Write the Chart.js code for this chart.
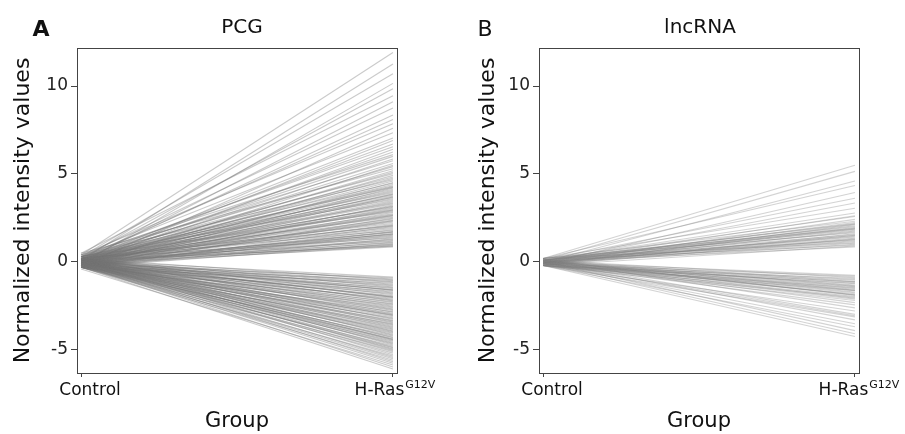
<!DOCTYPE html>
<html><head><meta charset="utf-8">
<script src="https://cdn.jsdelivr.net/npm/chart.js@4/dist/chart.umd.min.js"></script>
<style>
html,body{margin:0;padding:0;background:#fff;}
#wrap{position:relative;width:905px;height:434px;}
.p{position:absolute;top:0;height:434px;}
</style>
</head><body>
<div id="wrap">
<div class="p" style="left:0;width:452px"><canvas id="cA"></canvas></div>
<div class="p" style="left:452px;width:453px"><canvas id="cB"></canvas></div>
</div>
<script>
// ---------- data ----------
const groups = ['Control', 'H-Ras'];
const groupSup = ['', 'G12V'];
const yTicks = [-5, 0, 5, 10];
const panelTitles = ['PCG', 'lncRNA'];
const panelLetters = ['A', 'B'];
const yTitle = 'Normalized intensity values';
const xTitle = 'Group';

// PCG up-regulated lines: value at Control, value at H-Ras
const pcgUpStart = [0.4,0.1,0.3,-0.1,0.2,0.5,0.0,0.3,0.1,0.2,
0.4,-0.2,0.3,0.1,0.0,0.2,0.3,-0.1,0.1,0.4,
0.2,0.0,0.3,0.1,-0.2,0.2,0.5,0.0,0.1,0.3,
-0.1,0.2,0.0,0.4,0.1,-0.2,0.3,0.0,0.2,0.1,
-0.3,0.2,0.0,0.1,0.3,-0.1,0.2,0.0,-0.2,0.1,
0.3,0.0,-0.1,0.2,0.1,-0.3,0.0,0.2,-0.1,0.1,
0.0,0.3,-0.2,0.1,0.0,-0.1,0.2,-0.3,0.1,0.0,
-0.2,0.1,0.2,-0.1,0.0,-0.3,0.1,0.0,-0.2,0.2,
-0.1,0.0,-0.3,0.1,-0.2,0.0,-0.1,0.2,-0.3,0.0,
-0.1,0.1,-0.2,0.0,-0.3,-0.1,0.0,-0.2,0.1,-0.1,
0.2,0.0,-0.1,0.3,-0.2,0.1,0.0,-0.1,0.2,0.1];
const pcgUpEnd = [11.9,11.25,10.7,10.15,9.85,9.45,9.1,8.75,8.35,8.1,
7.85,7.6,7.35,7.05,6.9,6.7,6.55,6.4,6.25,6.1,
6.0,5.85,5.75,5.6,5.5,5.42,5.3,5.18,5.1,5.02,
4.92,4.83,4.76,4.68,4.6,4.52,4.47,4.4,4.33,4.28,
4.2,4.13,4.08,4.01,3.94,3.88,3.81,3.74,3.69,3.61,
3.55,3.49,3.43,3.36,3.3,3.24,3.18,3.11,3.06,2.99,
2.92,2.86,2.81,2.74,2.69,2.62,2.55,2.49,2.44,2.38,
2.31,2.26,2.19,2.13,2.08,2.02,1.96,1.9,1.84,1.79,
1.73,1.68,1.62,1.57,1.52,1.47,1.41,1.36,1.31,1.27,
1.22,1.18,1.13,1.09,1.04,1.0,0.96,0.92,0.89,0.86,
3.66,2.95,2.34,4.24,1.71,3.15,2.65,1.58,2.05,3.85];

// PCG down-regulated lines
const pcgDownStart = [0.1,-0.1,0.0,0.2,-0.2,0.1,0.0,-0.3,0.1,-0.1,
0.0,0.2,-0.2,0.1,-0.1,0.0,-0.3,0.1,0.0,-0.2,
0.2,-0.1,0.0,0.1,-0.3,-0.1,0.0,0.2,-0.2,0.1,
-0.1,0.0,-0.3,0.1,0.0,-0.2,0.1,-0.1,0.0,-0.3,
0.2,-0.1,0.0,-0.2,0.1,-0.1,-0.3,0.0,0.1,-0.2,
0.0,-0.1,0.1,-0.3,0.0,-0.2,0.1,-0.1,0.0,-0.2,
-0.3,0.1,0.0,-0.1,-0.2,0.0,0.1,-0.3,-0.1,0.0,
-0.2,0.1,-0.1,-0.3,0.0,-0.2,-0.1,0.1,-0.3,0.0,
-0.2,-0.1,0.0,-0.3,-0.1,-0.2,0.0,-0.3,-0.1,-0.2,
-0.3,-0.1,-0.2,-0.4,-0.2,-0.3,0.0,-0.1,0.1,-0.2];
const pcgDownEnd = [-0.86,-0.91,-0.97,-1.02,-1.06,-1.12,-1.16,-1.21,-1.27,-1.31,
-1.36,-1.42,-1.46,-1.51,-1.57,-1.61,-1.66,-1.72,-1.76,-1.81,
-1.86,-1.92,-1.97,-2.01,-2.06,-2.12,-2.17,-2.21,-2.26,-2.31,
-2.37,-2.41,-2.46,-2.52,-2.56,-2.61,-2.67,-2.71,-2.76,-2.82,
-2.86,-2.91,-2.96,-3.02,-3.06,-3.11,-3.17,-3.21,-3.26,-3.32,
-3.36,-3.41,-3.46,-3.52,-3.56,-3.61,-3.67,-3.71,-3.76,-3.81,
-3.86,-3.92,-3.96,-4.01,-4.06,-4.12,-4.16,-4.21,-4.27,-4.31,
-4.36,-4.42,-4.46,-4.51,-4.57,-4.62,-4.66,-4.72,-4.78,-4.84,
-4.88,-4.93,-4.98,-5.04,-5.1,-5.18,-5.27,-5.35,-5.43,-5.5,
-5.58,-5.67,-5.76,-5.86,-5.97,-6.08,-2.0,-3.0,-1.6,-4.4];

// lncRNA up-regulated lines
const lncUpStart = [0.2,0.1,0.0,0.2,-0.1,0.1,0.0,0.2,0.1,0.0,
0.1,-0.1,0.2,0.0,0.1,-0.2,0.0,0.1,-0.1,0.2,
0.0,0.1,-0.1,0.0,0.2,-0.2,0.1,0.0,-0.1,0.1,
0.0,-0.2,0.1,0.0,-0.1,0.2,0.0,-0.1,0.1,-0.2,
0.0,0.1,-0.1,0.0,0.1];
const lncUpEnd = [5.5,5.15,4.6,4.35,3.95,3.62,3.35,3.05,2.78,2.63,
2.58,2.42,2.31,2.24,2.19,2.12,2.06,2.01,1.95,1.91,
1.86,1.8,1.76,1.71,1.66,1.6,1.56,1.5,1.46,1.41,
1.35,1.31,1.25,1.21,1.16,1.1,1.06,1.01,0.96,0.91,
0.86,1.88,1.52,1.28,2.15];

// lncRNA down-regulated lines
const lncDownStart = [0.0,-0.1,0.1,-0.2,0.0,-0.1,0.1,0.0,-0.2,-0.1,
0.0,0.1,-0.1,-0.2,0.0,-0.1,0.1,-0.2,0.0,-0.1,
-0.2,0.0,0.1,-0.1,-0.2,0.0,-0.1,-0.2,0.0,-0.1,
0.1,-0.2,0.0,-0.1,-0.2,0.0,-0.1,-0.2,0.0,-0.1,
-0.2,0.0,-0.1,0.1,-0.2];
const lncDownEnd = [-0.76,-0.82,-0.89,-0.94,-1.0,-1.04,-1.11,-1.16,-1.21,-1.24,
-1.31,-1.35,-1.41,-1.46,-1.5,-1.56,-1.61,-1.64,-1.71,-1.75,
-1.81,-1.86,-1.9,-1.96,-2.01,-2.06,-2.11,-2.19,-2.31,-2.44,
-2.61,-2.79,-2.98,-3.06,-3.12,-3.29,-3.51,-3.68,-3.9,-4.08,
-4.24,-1.38,-1.62,-1.88,-1.12];

// ---------- drawing ----------
const FONT = 'DejaVu Sans';

function makeSets(starts, ends, color) {
  return ends.map((e, i) => ({
    data: [{x: 0, y: starts[i]}, {x: 1, y: e}],
    borderColor: color,
    borderWidth: 1.1,
    pointRadius: 0,
    fill: false,
    tension: 0
  }));
}

function panel(canvasId, idx, cfg) {
  const sets = makeSets(cfg.upS, cfg.upE, cfg.color).concat(makeSets(cfg.dnS, cfg.dnE, cfg.color));
  const framePlugin = {
    id: 'frame' + idx,
    afterDraw(chart) {
      const ctx = chart.ctx;
      const a = chart.chartArea;
      ctx.save();
      ctx.strokeStyle = '#444';
      ctx.lineWidth = 1;
      ctx.strokeRect(Math.round(a.left) + 0.5, Math.round(a.top) + 0.5,
        Math.round(a.right - a.left), Math.round(a.bottom - a.top));
      ctx.fillStyle = '#111';
      ctx.textAlign = 'center';
      ctx.textBaseline = 'middle';
      // panel letter
      ctx.font = (idx === 0 ? 'bold ' : '') + '22px "' + FONT + '"';
      ctx.fillText(panelLetters[idx], cfg.letterX, 30);
      // panel title
      ctx.font = '20px "' + FONT + '"';
      ctx.fillText(panelTitles[idx], cfg.titleX, 28);
      // group labels with superscript
      const xs = chart.scales.x;
      const yLab = 391;
      groups.forEach((g, i) => {
        const px = xs.getPixelForValue(i) + cfg.labOff[i];
        ctx.font = '17px "' + FONT + '"';
        const w1 = ctx.measureText(g).width;
        ctx.font = '11px "' + FONT + '"';
        const w2 = groupSup[i] ? ctx.measureText(groupSup[i]).width + 1 : 0;
        const x0 = px - (w1 + w2) / 2;
        ctx.textAlign = 'left';
        ctx.font = '17px "' + FONT + '"';
        ctx.fillText(g, x0, yLab);
        if (groupSup[i]) {
          ctx.font = '11px "' + FONT + '"';
          ctx.fillText(groupSup[i], x0 + w1 + 1, yLab - 6);
        }
      });
      ctx.restore();
    }
  };
  return new Chart(document.getElementById(canvasId), {
    type: 'line',
    data: {datasets: sets},
    plugins: [framePlugin],
    options: {
      responsive: true,
      maintainAspectRatio: false,
      devicePixelRatio: 1,
      animation: false,
      events: [],
      layout: {padding: {top: 48, right: cfg.rightPad, bottom: 0, left: 0}},
      plugins: {
        legend: {display: false},
        tooltip: {enabled: false},
        title: {display: false}
      },
      scales: {
        x: {
          type: 'linear', min: -0.013, max: 1.013,
          afterBuildTicks: s => { s.ticks = [{value: 0}, {value: 1}]; },
          afterFit: s => { s.height = 61; },
          ticks: {callback: () => '', font: {family: FONT, size: 17}},
          grid: {display: true, drawOnChartArea: false, drawTicks: true, tickLength: 4, color: '#444'},
          border: {display: true, color: '#444', width: 1},
          title: {display: true, text: xTitle, color: '#111',
            font: {family: FONT, size: 21}, padding: {top: 0, bottom: 0}}
        },
        y: {
          type: 'linear', min: -6.31, max: 12.16,
          afterBuildTicks: s => { s.ticks = yTicks.map(v => ({value: v})); },
          afterFit: s => { s.width = cfg.yWidth; },
          ticks: {color: '#222', padding: 3, font: {family: FONT, size: 17}},
          grid: {display: true, drawOnChartArea: false, drawTicks: true, tickLength: 6, color: '#444'},
          border: {display: true, color: '#444', width: 1},
          title: {display: true, text: yTitle, color: '#111',
            font: {family: FONT, size: 22}, padding: {top: cfg.yTitlePad, bottom: 0}}
        }
      }
    }
  });
}

panel('cA', 0, {upS: pcgUpStart, upE: pcgUpEnd, dnS: pcgDownStart, dnE: pcgDownEnd,
  color: 'rgba(115,115,115,0.38)',
  yWidth: 77, rightPad: 55, yTitlePad: 10, letterX: 41, titleX: 242, labOff: [9, 2]});
panel('cB', 1, {upS: lncUpStart, upE: lncUpEnd, dnS: lncDownStart, dnE: lncDownEnd,
  color: 'rgba(125,125,125,0.34)',
  yWidth: 87, rightPad: 46, yTitlePad: 23, letterX: 33, titleX: 248, labOff: [9, 4]});
</script>
</body></html>
